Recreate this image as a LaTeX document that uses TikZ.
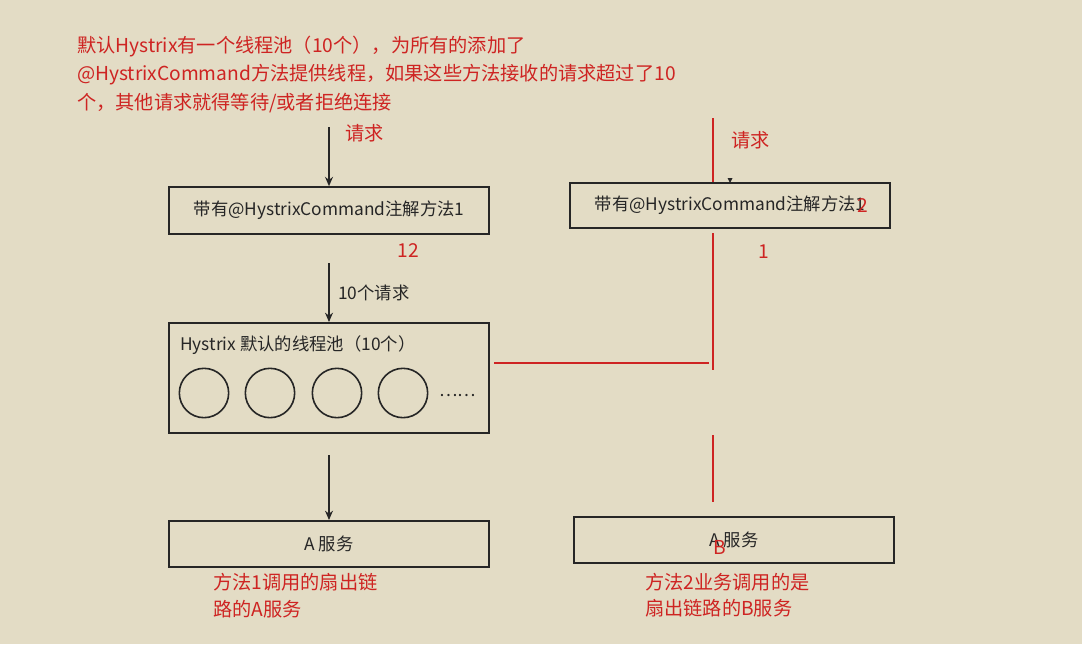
\documentclass[tikz,border=0pt]{standalone}
\usepackage{fontspec}
\setmainfont{Noto Sans CJK SC}
\usetikzlibrary{arrows.meta}
\definecolor{paper}{RGB}{227,220,197}
\definecolor{ink}{RGB}{38,38,38}
\definecolor{note}{RGB}{206,36,34}
\begin{document}
\begin{tikzpicture}[x=0.75pt,y=-0.75pt,
  box/.style={draw=ink, line width=1.5pt, minimum width=240pt, inner sep=0pt,
    font=\fontsize{13}{15}\selectfont, text=ink},
  slot/.style={circle, draw=ink, line width=1.2pt, minimum size=37pt, inner sep=0pt},
  remark/.style={inner sep=0pt, anchor=west, text=note, font=\fontsize{14.4}{17}\selectfont},
  label/.style={inner sep=0pt, text=ink, font=\fontsize{13}{15}\selectfont},
  flow/.style={draw=ink, line width=1pt, -{Stealth[length=7pt,width=6pt]}},
  redline/.style={draw=note, line width=1.9pt}]
% paper
\fill[paper] (0,0) rectangle (1082,644);
\useasboundingbox (0,0) rectangle (1082,644);

% explanatory note
\node[remark] (n1) at (77,47) {默认Hystrix有一个线程池（10个），为所有的添加了};
\node[remark] (n2) at (77,75) {@HystrixCommand方法提供线程，如果这些方法接收的请求超过了10};
\node[remark] (n3) at (77,103) {个，其他请求就得等待/或者拒绝连接};

% left column: method 1
\coordinate (in1) at (329,127);
\node[box, minimum height=35pt] (m1) at (329,210.5) {带有@HystrixCommand注解方法1};
\node[remark] (req1) at (345,133) {请求};
\node[remark, anchor=center] (c12) at (408,251) {12};

\node[box, minimum height=82.5pt] (pool) at (328.5,378) {};
\node[label, anchor=west] (pooltitle) at (180,345) {Hystrix 默认的线程池（10个）};
\node[slot] (t1) at (204,393) {};
\node[slot] (t2) at (270,393) {};
\node[slot] (t3) at (337,393) {};
\node[slot] (t4) at (403,393) {};
\node[label, anchor=west] (more) at (439,396) {……};

\node[box, minimum height=34.5pt] (svcA) at (329,544) {A 服务};

\draw[flow] (in1) -- (m1.north);
\coordinate (out1) at (329,263);
\draw[flow] (out1) -- (pool.north -| out1);
\node[label, anchor=west] (ten) at (338,293) {10个请求};
\coordinate (out2) at (329,455);
\draw[flow] (out2) -- (svcA.north);

\node[remark] (a1) at (213,582) {方法1调用的扇出链};
\node[remark] (a2) at (213,609) {路的A服务};

% right column: method 2
\node[box, minimum height=33.75pt] (m2) at (730,205.5) {带有@HystrixCommand注解方法1};
\node[remark, anchor=center] (c2) at (863,206) {2};
\node[remark] (req2) at (731,140) {请求};
\node[remark, anchor=center] (c1) at (764,252) {1};
\fill[ink] (727.5,178) -- (732.5,178) -- (730,183) -- cycle;

\coordinate (r1) at (713,118);
\coordinate (r2) at (713,233);
\coordinate (r3) at (713,370);
\coordinate (h1) at (494,363);
\coordinate (h2) at (709,363);
\coordinate (r4) at (713,435);
\coordinate (r5) at (713,502);
\draw[redline] (r1) -- (m2.north -| r1);
\draw[redline] (r2) -- (r3);
\draw[redline] (h1) -- (h2);
\draw[redline] (r4) -- (r5);

\node[box, minimum height=34.5pt] (svcB) at (734,540) {A 服务};
\node[remark, anchor=center] (b) at (720,547) {B};

\node[remark] (b1) at (645,582) {方法2业务调用的是};
\node[remark] (b2) at (645,608) {扇出链路的B服务};
\end{tikzpicture}
\end{document}
